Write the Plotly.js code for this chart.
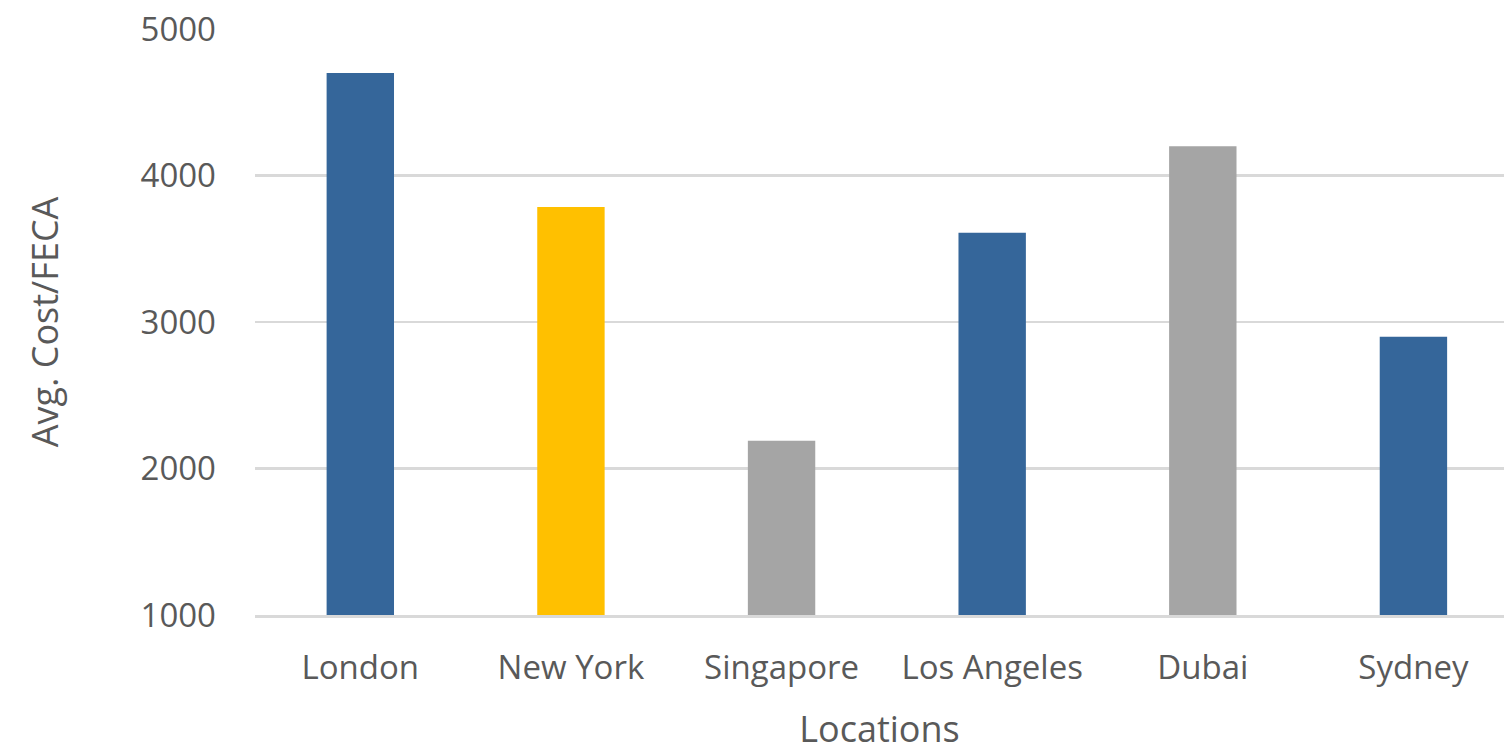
<!DOCTYPE html>
<html>
<head>
<meta charset="utf-8">
<script src="https://cdn.plot.ly/plotly-3.0.1.min.js"></script>
<style>html,body{margin:0;padding:0;background:#fff;}#chart{width:1504px;height:753px;}</style>
</head>
<body>
<div id="chart"></div>
<script>
const locations = ["London", "New York", "Singapore", "Los Angeles", "Dubai", "Sydney"];
const avgCost = [4700, 3785, 2190, 3610, 4200, 2900];
const barColors = ["#35669A", "#FFC000", "#A5A5A5", "#35669A", "#A5A5A5", "#35669A"];
const yTicks = [1000, 2000, 3000, 4000, 5000];

const textColor = "#595959";
const fontFamily = "Open Sans, sans-serif";

Plotly.newPlot("chart", [{
  type: "bar",
  x: locations,
  y: avgCost,
  marker: {color: barColors},
  hoverinfo: "x+y"
}], {
  width: 1504,
  height: 753,
  margin: {l: 255, r: 0, t: 29, b: 138},
  paper_bgcolor: "#fff",
  plot_bgcolor: "#fff",
  bargap: 0.68,
  showlegend: false,
  font: {family: fontFamily, color: textColor},
  xaxis: {
    type: "category",
    range: [-0.5, 5.43],
    tickfont: {size: 33, color: textColor, family: fontFamily},
    ticks: "",
    ticklabelstandoff: 22,
    showline: true,
    linecolor: "#D9D9D9",
    linewidth: 2.5,
    showgrid: false,
    zeroline: false,
    title: {text: "Locations", font: {size: 36, color: textColor, family: fontFamily}, standoff: 58}
  },
  yaxis: {
    range: [1000, 5000],
    tickvals: yTicks,
    ticktext: yTicks.map(String),
    tickfont: {size: 33, color: textColor, family: fontFamily},
    ticks: "",
    ticklabelstandoff: 38,
    showgrid: true,
    gridcolor: "#D9D9D9",
    gridwidth: 2.5,
    zeroline: false,
    showline: false,
    title: {text: "Avg. Cost/FECA", font: {size: 36, color: textColor, family: fontFamily}, standoff: 70}
  }
}, {displayModeBar: false, staticPlot: true});
</script>
</body>
</html>
